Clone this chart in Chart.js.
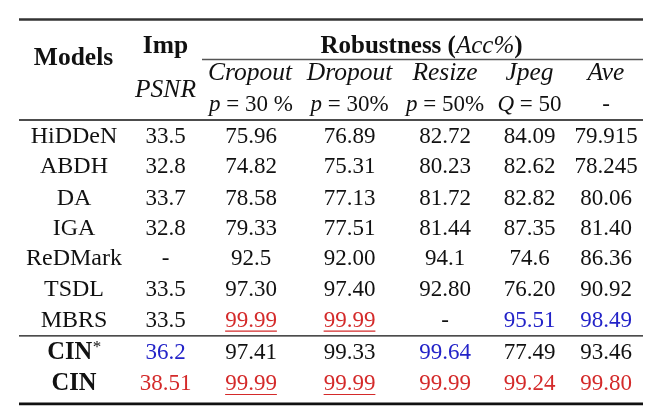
<!DOCTYPE html>
<html>
<head>
<meta charset="utf-8">
<script src="https://cdn.jsdelivr.net/npm/chart.js@4/dist/chart.umd.min.js"></script>
<style>
  html, body { margin: 0; padding: 0; background: #ffffff; }
  canvas { display: block; }
</style>
</head>
<body>
<canvas id="tbl" width="660" height="419"></canvas>
<script>
// table content
const models  = ['HiDDeN', 'ABDH', 'DA', 'IGA', 'ReDMark', 'TSDL', 'MBRS', 'CIN*', 'CIN'];
const psnr    = ['33.5', '32.8', '33.7', '32.8', '-', '33.5', '33.5', '36.2', '38.51'];
const cropout = ['75.96', '74.82', '78.58', '79.33', '92.5', '97.30', '99.99', '97.41', '99.99'];
const dropout = ['76.89', '75.31', '77.13', '77.51', '92.00', '97.40', '99.99', '99.33', '99.99'];
const resize  = ['82.72', '80.23', '81.72', '81.44', '94.1', '92.80', '-', '99.64', '99.99'];
const jpeg    = ['84.09', '82.62', '82.82', '87.35', '74.6', '76.20', '95.51', '77.49', '99.24'];
const ave     = ['79.915', '78.245', '80.06', '81.40', '86.36', '90.92', '98.49', '93.46', '99.80'];

// r = best (red), u = best + underline, b = second (blue)
const marks = [
  ['', '', '', '', '', '', ''],
  ['', '', '', '', '', '', ''],
  ['', '', '', '', '', '', ''],
  ['', '', '', '', '', '', ''],
  ['', '', '', '', '', '', ''],
  ['', '', '', '', '', '', ''],
  ['', '', 'u', 'u', '', 'b', 'b'],
  ['', 'b', '', '', 'b', '', ''],
  ['', 'r', 'u', 'u', 'r', 'r', 'r']
];

const columns = [models, psnr, cropout, dropout, resize, jpeg, ave];

// layout (in scale units = pixels)
const colX = [74, 165.5, 251, 349.5, 445, 529.5, 606];
const rowY = [143, 173.3, 204.5, 235, 265.3, 296, 326.7, 359.2, 390];
const FONT = 'Liberation Serif';
const RED = '#d42a2a';
const BLUE = '#2323c8';

const N = (t) => ({ t, s: '' });
const B = (t) => ({ t, s: 'bold ' });
const I = (t) => ({ t, s: 'italic ' });

const headerCells = [
  { x: 73.5, y: 65, size: 25.5, parts: [B('Models')] },
  { x: 165.5, y: 53.3, size: 25.5, parts: [B('Imp')] },
  { x: 421.5, y: 53.3, size: 25, parts: [B('Robustness ('), I('Acc%'), B(')')] },
  { x: 165.5, y: 96.5, size: 25.5, parts: [I('PSNR')] },
  { x: 250, y: 80, size: 25.5, parts: [I('Cropout')] },
  { x: 349.5, y: 80, size: 25.5, parts: [I('Dropout')] },
  { x: 445, y: 80, size: 25.5, parts: [I('Resize')] },
  { x: 529.5, y: 80, size: 25.5, parts: [I('Jpeg')] },
  { x: 606, y: 80, size: 25.5, parts: [I('Ave')] },
  { x: 251, y: 110.5, size: 23, parts: [I('p'), N(' = 30 %')] },
  { x: 349.5, y: 110.5, size: 23, parts: [I('p'), N(' = 30%')] },
  { x: 445, y: 110.5, size: 23, parts: [I('p'), N(' = 50%')] },
  { x: 529.5, y: 110.5, size: 23, parts: [I('Q'), N(' = 50')] },
  { x: 606, y: 110.5, size: 23, parts: [N('-')] }
];

// horizontal rules: y, x0, x1, width, colour
const rules = [
  [19.5, 19, 643, 2.3, '#333333'],
  [59.5, 202, 643, 1.3, '#555555'],
  [120, 19, 643, 1.3, '#111111'],
  [335.8, 19, 643, 1.3, '#111111'],
  [403.8, 19, 643, 2.8, '#111111']
];

function drawRich(ctx, parts, cx, y, size, color, underline) {
  let total = 0;
  const widths = parts.map(p => {
    ctx.font = p.s + size + 'px "' + FONT + '"';
    const w = ctx.measureText(p.t).width;
    total += w;
    return w;
  });
  let x = cx - total / 2;
  ctx.fillStyle = color;
  parts.forEach((p, i) => {
    ctx.font = p.s + size + 'px "' + FONT + '"';
    ctx.fillText(p.t, x, y);
    x += widths[i];
  });
  if (underline) {
    ctx.strokeStyle = color;
    ctx.lineWidth = 1.2;
    ctx.beginPath();
    ctx.moveTo(cx - total / 2, y + 4.5);
    ctx.lineTo(cx + total / 2, y + 4.5);
    ctx.stroke();
  }
}

const tablePlugin = {
  id: 'tablePlugin',
  afterDatasetsDraw(chart) {
    const ctx = chart.ctx;
    const xs = chart.scales.x, ys = chart.scales.y;
    ctx.save();
    ctx.textBaseline = 'alphabetic';
    ctx.textAlign = 'left';

    rules.forEach(([y, x0, x1, w, c]) => {
      const py = ys.getPixelForValue(y);
      ctx.strokeStyle = c;
      ctx.lineWidth = w;
      ctx.beginPath();
      ctx.moveTo(xs.getPixelForValue(x0), py);
      ctx.lineTo(xs.getPixelForValue(x1), py);
      ctx.stroke();
    });

    headerCells.forEach(h => {
      drawRich(ctx, h.parts, xs.getPixelForValue(h.x), ys.getPixelForValue(h.y), h.size, '#111111', false);
    });

    chart.data.datasets.forEach((ds, c) => {
      const meta = chart.getDatasetMeta(c);
      meta.data.forEach((pt, r) => {
        const text = columns[c][r];
        const m = marks[r][c];
        const color = m === 'b' ? BLUE : (m ? RED : '#111111');
        if (c === 0) {
          if (r >= 7) {
            const star = text.endsWith('*');
            const base = star ? text.slice(0, -1) : text;
            if (star) {
              // bold name with superscript asterisk
              ctx.font = 'bold 24.5px "' + FONT + '"';
              const wb = ctx.measureText(base).width;
              ctx.font = '17px "' + FONT + '"';
              const ws = ctx.measureText('*').width;
              const left = pt.x - (wb + ws) / 2;
              ctx.fillStyle = '#111111';
              ctx.font = 'bold 24.5px "' + FONT + '"';
              ctx.fillText(base, left, pt.y);
              ctx.font = '17px "' + FONT + '"';
              ctx.fillText('*', left + wb + 0.5, pt.y - 7);
              return;
            }
            drawRich(ctx, [B(base)], pt.x, pt.y, 24.5, '#111111', false);
          } else {
            drawRich(ctx, [N(text)], pt.x, pt.y, 24, '#111111', false);
          }
          return;
        }
        drawRich(ctx, [N(text)], pt.x, pt.y, 23, color, m === 'u');
      });
    });
    ctx.restore();
  }
};

const datasets = columns.map((col, c) => ({
  label: 'col' + c,
  data: col.map((v, r) => ({ x: colX[c], y: rowY[r] })),
  pointRadius: 0,
  showLine: false
}));

new Chart(document.getElementById('tbl').getContext('2d'), {
  type: 'scatter',
  data: { datasets },
  options: {
    responsive: false,
    animation: false,
    events: [],
    layout: { padding: 0 },
    plugins: { legend: { display: false }, tooltip: { enabled: false } },
    scales: {
      x: { type: 'linear', min: 0, max: 660, display: false },
      y: { type: 'linear', min: 0, max: 419, reverse: true, display: false }
    }
  },
  plugins: [tablePlugin]
});
</script>
</body>
</html>
